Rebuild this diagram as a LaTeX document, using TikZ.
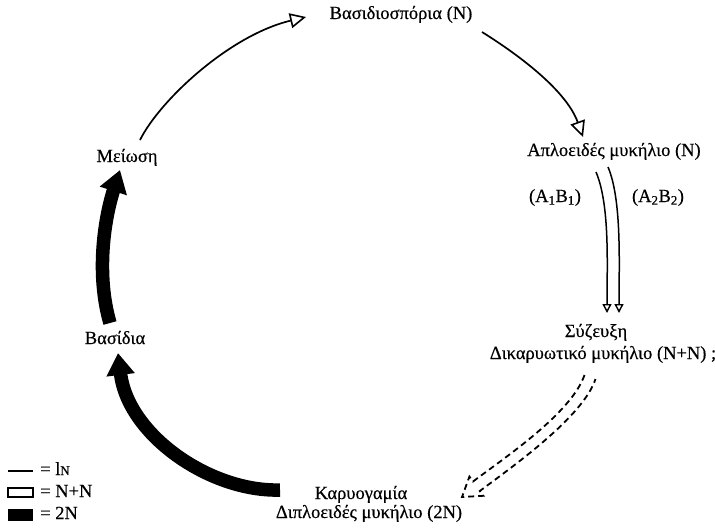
\documentclass[tikz,border=0pt]{standalone}
\usepackage{fontspec}
\setmainfont{Liberation Serif}
\newfontfamily\scanfont[FakeBold=0.4]{Liberation Serif}
\usetikzlibrary{arrows.meta}
\begin{document}
\begin{tikzpicture}[x=1pt,y=-1pt,
  lab/.style={inner sep=0pt, text height=12pt, text depth=4pt, font=\scanfont\fontsize{18.5}{20}\selectfont},
  thin/.style={line width=1.7pt, -{Triangle[open,length=16pt,width=15pt,line width=1.6pt]}},
  pairline/.style={line width=1.5pt, -{Triangle[open,length=9pt,width=9pt,line width=1.4pt]}},
  thick/.style={line width=13.5pt, -{Triangle[length=22pt,width=27pt]}},
  dashshape/.style={line width=1.8pt, dash pattern=on 6pt off 4pt, line join=miter},
  legbox/.style={minimum width=25pt, inner sep=0pt, line width=1.6pt}]
\useasboundingbox (0,0) rectangle (715,530);
\fill[white] (0,0) rectangle (715,530);
% labels
\node[lab] (bsp) at (401,15) {Βασιδιοσπόρια (N)};
\node[lab] (apl) at (614,152) {Απλοειδές μυκήλιο (N)};
\node[lab] (a1) at (555,198) {(A\textsubscript{1}B\textsubscript{1})};
\node[lab] (a2) at (658,198) {(A\textsubscript{2}B\textsubscript{2})};
\node[lab] (syz) at (596,333) {Σύζευξη};
\node[lab] (dik) at (603,355) {Δικαρυωτικό μυκήλιο (N+N) ;};
\node[lab] (kar) at (361,495) {Καρυογαμία};
\node[lab] (dip) at (369,514) {Διπλοειδές μυκήλιο (2N)};
\node[lab] (mei) at (127,158) {Μείωση};
\node[lab] (bas) at (115,340) {Βασίδια};
% connector end points
\coordinate (m0) at (140,140);
\coordinate (b1) at (306,17);
\coordinate (b0) at (482,32);
\coordinate (p1) at (583,137);
\coordinate (l0) at (596,172);
\coordinate (l1) at (607,313);
\coordinate (r0) at (608,167);
\coordinate (r1) at (619,313);
\coordinate (k0) at (280,490);
\coordinate (k1) at (118,353);
\coordinate (s0) at (110,323);
\coordinate (s1) at (120,170);
% thin arrows (N)
\draw[thin] (m0) .. controls (160,100) and (230,35) .. (b1);
\draw[thin] (b0) .. controls (530,62) and (568,95) .. (p1);
% pair of lines
\draw[pairline] (l0) .. controls (610,205) and (607,265) .. (l1);
\draw[pairline] (r0) .. controls (622,200) and (619,265) .. (r1);
% dashed hollow arrow (N+N)
\draw[dashshape] (584.5,375) .. controls (571.5,413) and (505,457.5) .. (473,481.5)
  -- (469.4,476.6) -- (462,497) -- (483.4,495.8) -- (479.8,491)
  .. controls (512,467) and (583,417) .. (595.5,379);
% thick arrows (2N)
\draw[thick] (k0) .. controls (210,492) and (128,435) .. (k1);
\draw[thick] (s0) .. controls (96,275) and (104,220) .. (s1);
% legend
\draw[line width=2pt] (8,471) -- (33,471);
\node[legbox, draw, minimum height=9pt] (lg2) at (20.5,492.5) {};
\node[legbox, fill=black, minimum height=12pt] (lg3) at (20.5,515) {};
\node[lab, anchor=west] (lt1) at (40,471) {= l{\fontsize{13}{13}\selectfont N}};
\node[lab, anchor=west] (lt2) at (40,493) {= N+N};
\node[lab, anchor=west] (lt3) at (40,515) {= 2N};
\end{tikzpicture}
\end{document}
